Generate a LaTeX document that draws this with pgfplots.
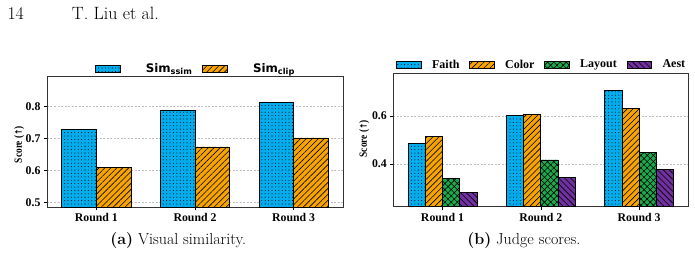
\documentclass[border=0pt]{standalone}
\usepackage{fontspec}
\usepackage{graphicx}
\usepackage{pgfplots}
\pgfplotsset{compat=1.18}
\usetikzlibrary{patterns.meta}
\newfontfamily\tnr{Liberation Serif}
\newfontfamily\djv{DejaVu Sans}
\definecolor{cblue}{HTML}{00AEEF}
\definecolor{corange}{HTML}{F7A400}
\definecolor{cgreen}{HTML}{1DAA4E}
\definecolor{cpurple}{HTML}{7030A0}

\pgfplotsset{
  common/.style={
    scale only axis, anchor=south west,
    ybar=0pt,
    xmin=-0.5, xmax=2.5,
    xtick={0,1,2}, xticklabels={Round 1,Round 2,Round 3},
    tick align=outside, xtick pos=bottom, ytick pos=left,
    major tick length=3pt,
    tick style={black, line width=0.6pt},
    ymajorgrids, grid style={dash pattern=on 2pt off 1.5pt, gray!50, line width=0.5pt},
    axis line style={black!80, line width=0.8pt},
    tick label style={font=\fontsize{11.8}{12}\tnr\bfseries},
    /pgf/number format/assume math mode=true,
    /pgf/number format/fixed, /pgf/number format/precision=1,
    ylabel={\scalebox{0.85}[1]{Score ({\djv\bfseries\fontsize{9}{10}\selectfont ↑})}},
    legend columns=-1,
    legend image code/.code={\draw[##1] (0pt,-3.5pt) rectangle (24.5pt,3.5pt);},
    legend style={draw=none, fill=none, anchor=center, inner sep=0pt,
      nodes={inner xsep=0pt, inner ysep=1pt},
      /tikz/every even column/.append style={column sep=10pt}},
  },
  sblue/.style={fill=cblue, draw=black, line width=0.7pt, postaction={pattern={Dots[distance=3.4pt, radius=0.55pt]}, pattern color=black}},
  sorange/.style={fill=corange, draw=black, line width=0.7pt, postaction={pattern={Lines[angle=45, distance=4.2pt, line width=0.6pt]}, pattern color=black}},
  sgreen/.style={fill=cgreen, draw=black, line width=0.7pt, postaction={pattern={Hatch[angle=45, distance=4.4pt, line width=0.6pt]}, pattern color=black}},
  spurple/.style={fill=cpurple, draw=black, line width=0.7pt, postaction={pattern={Lines[angle=-45, distance=4.2pt, line width=0.6pt]}, pattern color=black}},
}

\begin{document}
\begin{tikzpicture}
\path[use as bounding box] (0pt,0pt) rectangle (695pt,255pt);

% header
\node[anchor=base west, inner sep=0pt, font=\fontsize{17.8}{20}\selectfont] at (7.3pt,235.7pt) {14};
\node[anchor=base west, inner sep=0pt, font=\fontsize{17.8}{20}\selectfont] at (71.7pt,235.7pt) {T. Liu et al.};

% (a)
\begin{axis}[common,
  at={(47pt,48pt)}, width=296pt, height=130.3pt,
  ymin=0.4866, ymax=0.893,
  ytick={0.5,0.6,0.7,0.8},
  bar width=0.35,
  ylabel style={font=\fontsize{11}{12}\tnr\bfseries, at={(axis description cs:-0.094,0.48)}, anchor=center},
  legend style={at={(0.5,1.059)},
    /tikz/every odd column/.append style={column sep=25.5pt}},
]
\addplot[sblue] coordinates {(0,0.729) (1,0.787) (2,0.814)};
\addplot[sorange] coordinates {(0,0.609) (1,0.674) (2,0.702)};
\legend{{\fontsize{11.8}{12}\djv\bfseries Sim\textsubscript{ssim}},{\fontsize{11.8}{12}\djv\bfseries Sim\textsubscript{clip}}}
\end{axis}

% (b)
\begin{axis}[common,
  at={(393.3pt,48.3pt)}, width=295pt, height=133.4pt,
  ymin=0.222, ymax=0.778,
  ytick={0.4,0.6},
  bar width=0.175,
  ylabel style={font=\fontsize{11}{12}\tnr\bfseries, at={(axis description cs:-0.0987,0.51)}, anchor=center},
  legend style={at={(0.5,1.065)}, font=\fontsize{12}{13}\tnr\bfseries,
    /tikz/every odd column/.append style={column sep=10.5pt}},
]
\addplot[sblue] coordinates {(0,0.486) (1,0.604) (2,0.708)};
\addplot[sorange] coordinates {(0,0.514) (1,0.607) (2,0.632)};
\addplot[sgreen] coordinates {(0,0.340) (1,0.417) (2,0.449)};
\addplot[spurple] coordinates {(0,0.280) (1,0.345) (2,0.379)};
\legend{Faith,Color,Layout,Aest}
\end{axis}

% captions
\node[anchor=base, inner sep=0pt, font=\fontsize{16}{18}\selectfont] at (178.3pt,11pt) {\textbf{(a)} Visual similarity.};
\node[anchor=base, inner sep=0pt, font=\fontsize{16}{18}\selectfont] at (523.8pt,11pt) {\textbf{(b)} Judge scores.};
\end{tikzpicture}
\end{document}
